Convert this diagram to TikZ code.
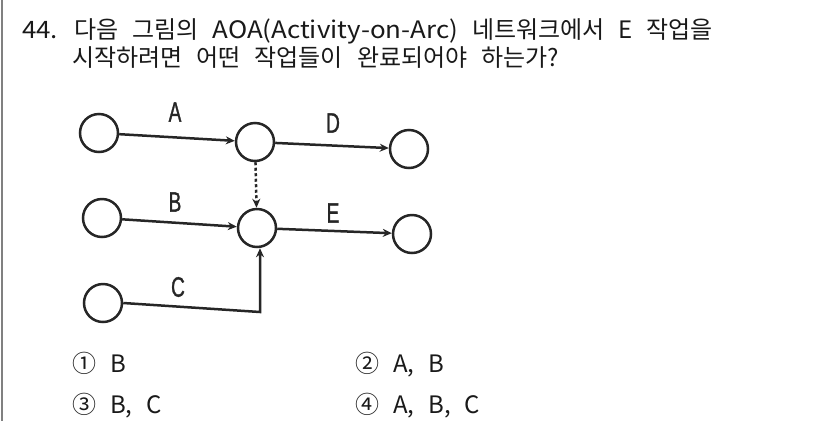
\documentclass[tikz,border=0pt]{standalone}
\usepackage{fontspec}
\setmainfont{Noto Sans CJK KR}
\newfontfamily\lblfont[FakeBold=1.4]{Liberation Sans}
\usetikzlibrary{arrows.meta}
\newcommand\actlbl[1]{\scalebox{0.68}[1]{#1}}
\newcommand\wide[1]{\scalebox{1.08}[1]{#1}}
\newcommand\qfont{\fontsize{24}{24}\selectfont\spaceskip=14pt plus 0pt minus 0pt\relax}
\begin{document}
\begin{tikzpicture}[x=1pt,y=-1pt,
  ev/.style={circle,draw=black!85,line width=2.5pt,minimum size=38pt,inner sep=0pt},
  act/.style={draw=black!85,line width=2.5pt,-{Stealth[length=9pt,width=8pt]}},
  dum/.style={act,dash pattern=on 3pt off 2.5pt},
  lbl/.style={font=\lblfont\fontsize{28}{28}\selectfont,inner sep=0pt,text=black!85},
  txt/.style={font=\qfont,anchor=base west,inner sep=0pt,text=black!90}]
\useasboundingbox (0,0) rectangle (826,421);
\draw[gray,line width=1.2pt] (2,0) -- (2,421);
% question
\node[txt] (q1) at (22,38) {\wide{44.}\hspace{2pt} 다음 그림의 \wide{AOA(Activity-on-Arc)} 네트워크에서 E 작업을};
\node[txt] (q2) at (72,66) {시작하려면 어떤 작업들이 완료되어야 하는가?};
% network
\node[ev] (a0) at (99,133) {};
\node[ev] (n1) at (255,142) {};
\node[ev] (d1) at (409,149) {};
\node[ev] (b0) at (102,218) {};
\node[ev] (n2) at (257,228) {};
\node[ev] (e1) at (412,234) {};
\node[ev] (c0) at (103,303) {};
\coordinate (cc) at (260,312);
\draw[act] (a0) -- (n1);
\draw[act] (n1) -- (d1);
\draw[act] (b0) -- (n2);
\draw[act] (n2) -- (e1);
\draw[dum] (n1) -- (n2);
\draw[act] (c0.east) -- (cc) -- (n2.south -| cc);
\node[lbl] (la) at (175,112) {\actlbl{A}};
\node[lbl] (ld) at (333,123) {\actlbl{D}};
\node[lbl] (lb) at (175,202) {\actlbl{B}};
\node[lbl] (le) at (333,213) {\actlbl{E}};
\node[lbl] (lc) at (178,287) {\actlbl{C}};
% answers
\node[txt] (o1) at (72,372) {① B};
\node[txt] (o2) at (355,372) {② A, B};
\node[txt] (o3) at (72,413) {③ B, C};
\node[txt] (o4) at (355,413) {④ A, B, C};
\end{tikzpicture}
\end{document}
